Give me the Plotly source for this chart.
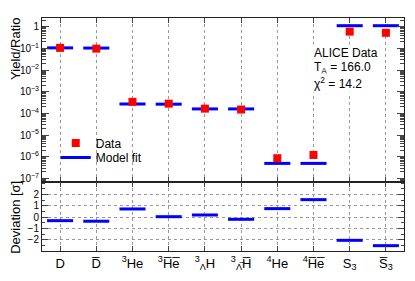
import plotly.graph_objects as go

# ---------------- data ----------------
categories = ["D", "D\u0305", "<sup>3</sup>He", "<sup>3</sup>H\u0305e\u0305",
              "<sup>3</sup><sub>Λ</sub>H", "<sup>3</sup><sub>Λ\u0305</sub>H\u0305",
              "<sup>4</sup>He", "<sup>4</sup>H\u0305e\u0305",
              "S<sub>3</sub>", "S\u0305<sub>3</sub>"]
data_yield = [0.105, 0.097, 3.4e-4, 2.8e-4, 1.65e-4, 1.5e-4, 8.5e-7, 1.2e-6, 0.59, 0.52]
model_yield = [0.105, 0.103, 2.7e-4, 2.65e-4, 1.6e-4, 1.6e-4, 4.9e-7, 4.9e-7, 1.11, 1.11]
deviation = [-0.3, -0.35, 0.73, 0.05, 0.2, -0.18, 0.76, 1.55, -2.03, -2.5]
log_tick_vals = [1, 1e-1, 1e-2, 1e-3, 1e-4, 1e-5, 1e-6, 1e-7]
log_tick_text = ["1", "10<sup>−1</sup>", "10<sup>−2</sup>", "10<sup>−3</sup>",
                 "10<sup>−4</sup>", "10<sup>−5</sup>", "10<sup>−6</sup>", "10<sup>−7</sup>"]
dev_tick_vals = [-2, -1, 0, 1, 2]
dev_tick_text = ["−2", "−1", "0", "1", "2"]
info_lines = ["ALICE Data", "T<sub>A</sub> = 166.0", "χ<sup>2</sup> = 14.2"]

HALF = 0.36
idx = list(range(len(categories)))

def segments(values):
    xs, ys = [], []
    for i, v in zip(idx, values):
        xs += [i - HALF, i + HALF, None]
        ys += [v, v, None]
    return xs, ys

FONT = "Liberation Sans, Arial, sans-serif"
fig = go.Figure()

mx, my = segments(model_yield)
fig.add_trace(go.Scatter(x=mx, y=my, mode="lines", name="Model fit",
                         line=dict(color="#0000ff", width=3), xaxis="x", yaxis="y",
                         legend="legend2"))
fig.add_trace(go.Scatter(x=idx, y=data_yield, mode="markers", name="Data",
                         marker=dict(symbol="square", color="#ff0000", size=8),
                         xaxis="x", yaxis="y", legend="legend"))
dx, dy = segments(deviation)
fig.add_trace(go.Scatter(x=dx, y=dy, mode="lines", showlegend=False,
                         line=dict(color="#0000ff", width=3), xaxis="x2", yaxis="y2"))

minor_log = [m * 10 ** e for e in range(-8, 1) for m in range(2, 10)]

axis_common = dict(showline=True, linecolor="#222", linewidth=1, mirror="ticks",
                   ticks="inside", tickcolor="#444", zeroline=False, automargin=False)

# page body adds an 8px offset, so the figure is sized to fit the window
fig.update_layout(
    width=407, height=273,
    margin=dict(l=34, r=11, t=10, b=30, autoexpand=False),
    paper_bgcolor="white", plot_bgcolor="white",
    font=dict(family=FONT, color="black", size=12),
    xaxis=dict(domain=[0, 1], anchor="y", range=[-0.5, 9.5], tickvals=idx,
               showticklabels=False, ticklen=5, showgrid=True, gridcolor="#999",
               griddash="dot", gridwidth=1, **axis_common),
    yaxis=dict(domain=[0.296, 1], anchor="x", type="log", range=[-7.17, 0.4],
               tickvals=log_tick_vals, ticktext=log_tick_text, ticklen=7,
               tickfont=dict(size=10), showgrid=False,
               minor=dict(tickmode="array", tickvals=minor_log, ticks="inside",
                          ticklen=4, tickcolor="#444", showgrid=False),
               **axis_common),
    xaxis2=dict(domain=[0, 1], anchor="y2", matches="x", range=[-0.5, 9.5], tickvals=idx,
                ticktext=categories, ticklen=5, tickfont=dict(size=13),
                showgrid=True, gridcolor="#999", griddash="dot", gridwidth=1,
                **axis_common),
    yaxis2=dict(domain=[0, 0.296], anchor="x2", range=[-2.97, 3.1],
                tickvals=dev_tick_vals, ticktext=dev_tick_text, ticklen=6,
                tickfont=dict(size=10), showgrid=True, gridcolor="#999",
                griddash="dot", gridwidth=1,
                minor=dict(dtick=0.5, ticks="inside", ticklen=3, tickcolor="#444",
                           showgrid=False),
                **axis_common),
    legend=dict(x=0.038, y=0.4635, xanchor="left", yanchor="middle",
                bgcolor="rgba(0,0,0,0)", font=dict(size=12)),
    legend2=dict(x=0.038, y=0.401, xanchor="left", yanchor="middle",
                 bgcolor="rgba(0,0,0,0)", font=dict(size=12)),
    showlegend=True,
)

annotations = [
    dict(text="Yield/Ratio", textangle=-90, xref="paper", yref="paper",
         x=-0.0735, y=0.869, xanchor="center", yanchor="middle", showarrow=False,
         font=dict(size=13)),
    dict(text="Deviation [σ]", textangle=-90, xref="paper", yref="paper",
         x=-0.0735, y=0.144, xanchor="center", yanchor="middle", showarrow=False,
         font=dict(size=13)),
]
for k, line in enumerate(info_lines):
    annotations.append(dict(text=line, xref="paper", yref="paper", x=0.746,
                            y=0.848 - k * 0.064, xanchor="left", yanchor="middle",
                            showarrow=False, font=dict(size=12), bgcolor="white",
                            borderpad=1))
fig.update_layout(annotations=annotations)

fig.write_html("out.html")
